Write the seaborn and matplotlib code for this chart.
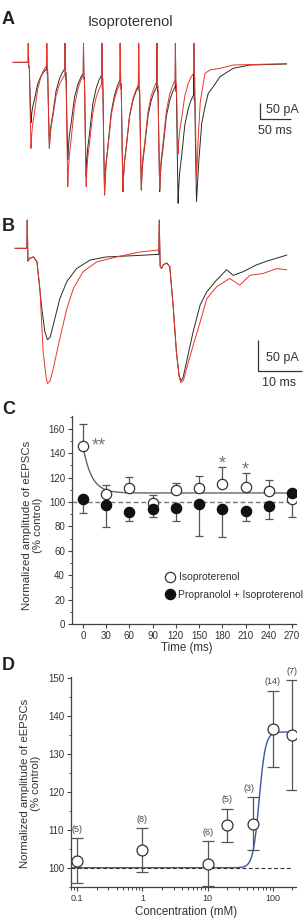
import numpy as np
import pandas as pd
import matplotlib
matplotlib.use("Agg")
import matplotlib.pyplot as plt
import seaborn as sns
from matplotlib.lines import Line2D
from matplotlib.ticker import MultipleLocator, LogLocator, NullFormatter, FixedLocator, FixedFormatter

sns.set_theme(style="ticks")
plt.rcParams['font.family'] = ['Liberation Sans', 'DejaVu Sans']

# ---------------- data ----------------
# Panel A: train of 10 eEPSCs (ms, pA), control (black) vs isoproterenol (red)
A_title = "Isoproterenol"
A_stim_ms = [0, 30, 60, 90, 120, 150, 180, 210, 240, 270]
A_black_pre = [0, -20, -19, -33, -38, -53, -73, -73, -73, -98]
A_red_pre = [0, -10, -38, -38, -65, -65, -68, -58, -53, -33]
A_black_peak = [-181, -257, -293, -343, -398, -388, -383, -388, -423, -418]
A_red_peak = [-258, -258, -373, -373, -398, -385, -378, -381, -275, -343]
A_artifact_pA = 57
A_decay_dt = [1.0, 2.5, 5.4, 10.9, 16.3, 21.0]
A_decay_frac = [0.85, 0.72, 0.58, 0.28, 0.13, 0.05]
A_black_tail_t = [278, 282.9, 288.3, 293.6, 301.8, 312.7, 334.4, 361.7, 421.5]
A_black_tail_pA = [-300, -183, -133, -93, -73, -43, -18, -8, -5]
A_red_tail_t = [278, 280.5, 283, 288.3, 296.4, 312.7, 334.4, 421.5]
A_red_tail_pA = [-200, -120, -90, -33, -23, -18, -8, -4]

# Panel B: first two eEPSCs, expanded (ms, pA)
B_black_t = [-2.8, -0.1, 0, 0.15, 0.6, 1.4, 1.9, 2.2, 3.3, 4.0, 4.6, 5.2, 5.9, 7.4, 9.0, 11.2,
             14.3, 18.0, 24.1, 29.4, 29.9, 30, 30.2, 30.5, 30.9, 31.7, 32.4, 33.2, 33.9, 34.5,
             34.9, 35.4, 36.2, 37.7, 39.3, 40.8, 43.0, 45.3, 46.8, 49.1, 52.1, 54.4, 59.0]
B_black_pA = [0, 0, 46, -21, -16, -14, -19, -22, -98, -136, -149, -145, -125, -82, -54, -33,
              -19, -14, -12, -10, -10, 46, -29, -33, -27, -24, -30, -98, -169, -207,
              -216, -211, -185, -136, -92, -71, -52, -35, -44, -38, -27, -21, -11]
B_red_t = [-2.8, -0.1, 0, 0.15, 0.6, 1.4, 1.9, 2.2, 2.9, 3.6, 4.3, 4.6, 5.2, 5.9, 7.4, 9.0,
           10.5, 12.7, 15.8, 20.3, 25.6, 29.4, 29.9, 30, 30.2, 30.5, 30.9, 31.7, 32.4, 33.2,
           33.9, 34.5, 34.9, 35.5, 36.2, 37.7, 39.3, 40.8, 43.0, 46.0, 48.3, 50.6, 53.6, 56.7, 59.0]
B_red_pA = [0, 0, 46, -21, -16, -14, -19, -22, -68, -169, -211, -220, -216, -196, -147, -98,
            -65, -38, -22, -14, -6, -3, -3, 46, -29, -33, -27, -24, -30, -98,
            -169, -208, -219, -215, -196, -158, -120, -82, -63, -49, -60, -44, -41, -33, -35]

# Panel C: normalized amplitude vs time in train
C_time = [0, 30, 60, 90, 120, 150, 180, 210, 240, 270]
C_iso_mean = [145.8, 106.9, 111.8, 99.5, 109.9, 111.5, 115.1, 112.6, 108.8, 102.8]
C_iso_sem = [17.8, 6.8, 9.1, 6.5, 6.0, 10.2, 13.7, 11.0, 9.3, 15.3]
C_iso_err_dir = [1, 1, 1, 1, 1, 1, 1, 1, 1, -1]
C_prop_mean = [102.5, 97.8, 92.1, 94.3, 95.4, 98.4, 94.6, 92.4, 96.7, 107.4]
C_prop_sem = [11.2, 18.0, 7.4, 6.6, 11.0, 26.3, 23.6, 8.0, 10.9, 3.0]
C_series = ["Isoproterenol", "Propranolol + Isoproterenol"]
C_sig_text = ["**", "*", "*"]
C_sig_x = [21, 180, 210]
C_sig_y = [151, 136, 131]
C_fit_plateau = 107.4
C_fit_span = 38.4
C_fit_tau_ms = 11.0

# Panel D: concentration-response
D_conc = [0.1, 1, 10, 20, 50, 100, 200]
D_mean = [101.9, 104.6, 101.1, 111.2, 111.6, 136.6, 134.9]
D_sem = [5.95, 5.85, 5.95, 4.35, 7.0, 10.1, 14.5]
D_n = [5, 8, 6, 5, 3, 14, 7]
D_fit_bottom = 100.0
D_fit_top = 135.8
D_fit_ec50 = 62.0
D_fit_hill = 9.0

TXT = "#333333"
AX = "#444444"
RED = "#e8352a"
BLK = "#2a2a2a"

W, H = 304, 924
fig = plt.figure(figsize=(W / 100, H / 100), dpi=100)


def px_axes(x0, y0, x1, y1):
    return fig.add_axes([x0 / W, 1 - y1 / H, (x1 - x0) / W, (y1 - y0) / H])


def build_A(pre, peak, tail_t, tail_v):
    t = [-25.0]
    v = [pre[0]]
    n = len(A_stim_ms)
    for i, s in enumerate(A_stim_ms):
        P, K = pre[i], peak[i]
        t += [s - 0.4, s, s + 0.7, s + 1.6, s + 3.0, s + 4.4]
        v += [P, A_artifact_pA, P - 14, P - 12, P - 12 + 0.55 * (K - P + 12), K]
        if i < n - 1:
            N = pre[i + 1]
            for dt, f in zip(A_decay_dt, A_decay_frac):
                t.append(s + 4.4 + dt)
                v.append(N + f * (K - N))
        else:
            t += list(tail_t)
            v += list(tail_v)
    return pd.DataFrame({"t": t, "pA": v})


# ---------------- Panel A ----------------
axA = px_axes(0, 35, 304, 215)
dfAb = build_A(A_black_pre, A_black_peak, A_black_tail_t, A_black_tail_pA)
dfAr = build_A(A_red_pre, A_red_peak, A_red_tail_t, A_red_tail_pA)
sns.lineplot(data=dfAb, x="t", y="pA", sort=False, estimator=None, color=BLK, lw=0.7, ax=axA)
sns.lineplot(data=dfAr, x="t", y="pA", sort=False, estimator=None, color=RED, lw=0.7, ax=axA)
axA.set_xlim(-46.2, 449.8)
axA.set_ylim(-458, 82)
axA.axis("off")
axA.plot([378, 378, 428], [-121, -171, -171], color=TXT, lw=0.9, solid_capstyle="butt")
axA.text(387, -143, "50 pA", fontsize=9, color=TXT, ha="left", va="center")
axA.text(403, -206, "50 ms", fontsize=9, color=TXT, ha="center", va="center")
fig.text(130.5 / W, 1 - 22 / H, A_title, fontsize=10.5, color=TXT, ha="center", va="center")

# ---------------- Panel B ----------------
axB = px_axes(0, 215, 304, 395)
dfBb = pd.DataFrame({"t": B_black_t, "pA": B_black_pA})
dfBr = pd.DataFrame({"t": B_red_t, "pA": B_red_pA})
sns.lineplot(data=dfBb, x="t", y="pA", sort=False, estimator=None, color=BLK, lw=0.7, ax=axB)
sns.lineplot(data=dfBr, x="t", y="pA", sort=False, estimator=None, color=RED, lw=0.7, ax=axB)
axB.set_xlim(-6.2, 62.9)
axB.set_ylim(-239, 54.3)
axB.axis("off")
axB.plot([52.4, 52.4, 62.4], [-149.5, -199.5, -199.5], color=TXT, lw=0.9, solid_capstyle="butt")
axB.text(54.2, -178, "50 pA", fontsize=9, color=TXT, ha="left", va="center")
axB.text(57.2, -220, "10 ms", fontsize=9, color=TXT, ha="center", va="center")

# ---------------- Panel C ----------------
axC = px_axes(72, 416, 296, 624)
axC.axhline(100, ls=(0, (3.5, 2)), color="#777777", lw=1.0, zorder=1)
xs = np.linspace(0, 270, 300)
fit_df = pd.DataFrame({"x": xs, "y": C_fit_plateau + C_fit_span * np.exp(-xs / C_fit_tau_ms)})
sns.lineplot(data=fit_df, x="x", y="y", color="#666666", lw=1.0, ax=axC, zorder=2)

iso_lo = [s if d < 0 else 0 for s, d in zip(C_iso_sem, C_iso_err_dir)]
iso_hi = [s if d > 0 else 0 for s, d in zip(C_iso_sem, C_iso_err_dir)]
axC.errorbar(C_time, C_iso_mean, yerr=[iso_lo, iso_hi], fmt="none", ecolor="#555555",
             elinewidth=0.9, capsize=2.6, capthick=0.9, zorder=3)
axC.errorbar(C_time, C_prop_mean, yerr=[C_prop_sem, [0] * len(C_prop_sem)], fmt="none",
             ecolor="#555555", elinewidth=0.9, capsize=2.6, capthick=0.9, zorder=3)
sns.scatterplot(x=C_time, y=C_iso_mean, marker="o", s=55, color="white", edgecolor="#333333",
                linewidth=0.9, ax=axC, zorder=4)
sns.scatterplot(x=C_time, y=C_prop_mean, marker="o", s=55, color="#111111", edgecolor="#111111",
                linewidth=0.9, ax=axC, zorder=5)
for tx, sx, sy in zip(C_sig_text, C_sig_x, C_sig_y):
    axC.annotate(tx, (sx, sy), xytext=(0, -7.6), textcoords="offset points", ha="center",
                 va="baseline", fontsize=13, color="#777777")

axC.set_xlim(-14.2, 275.2)
axC.set_ylim(0, 170.5)
axC.set_xticks(C_time)
axC.set_yticks(range(0, 161, 20))
axC.yaxis.set_minor_locator(MultipleLocator(10))
axC.set_xlabel("Time (ms)", fontsize=8.3, color=TXT)
axC.set_ylabel("Normalized amplitude of eEPSCs\n(% control)", fontsize=8.2, color=TXT,
               linespacing=1.15)
axC.xaxis.set_label_coords(0.511, -0.117)
axC.xaxis.label.set_va("center")
axC.yaxis.set_label_coords(-0.176, 0.476)
axC.yaxis.label.set_va("center")

handles = [Line2D([], [], marker="o", ls="none", mfc="white", mec="#333333", ms=7.4, mew=0.9),
           Line2D([], [], marker="o", ls="none", mfc="#111111", mec="#111111", ms=7.4, mew=0.9)]
leg = axC.legend(handles, C_series, loc="center left", bbox_to_anchor=(166 / W, 1 - 586 / H),
                 bbox_transform=fig.transFigure, frameon=False, fontsize=7.5, handlelength=0.85,
                 handletextpad=0.35, borderpad=0, borderaxespad=0, labelspacing=0.72)
for t in leg.get_texts():
    t.set_color(TXT)

# ---------------- Panel D ----------------
axD = px_axes(71, 677, 296, 886.7)
cs = np.logspace(np.log10(0.08), np.log10(200), 500)
dfit = pd.DataFrame({"x": cs, "y": D_fit_bottom + (D_fit_top - D_fit_bottom) /
                     (1 + (D_fit_ec50 / cs) ** D_fit_hill)})
sns.lineplot(data=dfit, x="x", y="y", color="#3f55a8", lw=1.0, ax=axD, zorder=2)
axD.plot([0.08, 200], [100, 100], ls=(0, (3.5, 2.2)), color="#333333", lw=0.8, zorder=2.5)
axD.errorbar(D_conc, D_mean, yerr=D_sem, fmt="none", ecolor="#555555", elinewidth=0.9,
             capsize=4.2, capthick=0.9, zorder=3)
sns.scatterplot(x=D_conc, y=D_mean, marker="o", s=62, color="white", edgecolor="#333333",
                linewidth=0.9, ax=axD, zorder=4)
for i, (c, m, s, n) in enumerate(zip(D_conc, D_mean, D_sem, D_n)):
    dx = -3 if c == 50 else 0
    axD.annotate(f"({n})", (c, m + s), xytext=(dx, 3.2), textcoords="offset points",
                 ha="center", va="bottom", fontsize=6.5, color="#444444", annotation_clip=False)

axD.set_xscale("log")
axD.set_xlim(0.08, 228)
axD.set_ylim(95, 150.3)
axD.xaxis.set_major_locator(FixedLocator([0.1, 1, 10, 100]))
axD.xaxis.set_major_formatter(FixedFormatter(["0.1", "1", "10", "100"]))
axD.xaxis.set_minor_locator(LogLocator(base=10, subs=range(2, 10)))
axD.xaxis.set_minor_formatter(NullFormatter())
axD.set_yticks(range(100, 151, 10))
axD.yaxis.set_minor_locator(MultipleLocator(5))
axD.set_xlabel("Concentration (mM)", fontsize=8.3, color=TXT)
axD.set_ylabel("Normalized amplitude of eEPSCs\n(% control)", fontsize=8.2, color=TXT,
               linespacing=1.15)
axD.xaxis.set_label_coords(0.51, -0.122)
axD.xaxis.label.set_va("center")
axD.yaxis.set_label_coords(-0.18, 0.494)
axD.yaxis.label.set_va("center")

for ax in (axC, axD):
    sns.despine(ax=ax)
    for sp in ("left", "bottom"):
        ax.spines[sp].set_color(AX)
        ax.spines[sp].set_linewidth(0.9)
    ax.tick_params(which="major", length=3, width=0.8, colors=AX, labelsize=7, pad=2,
                   labelcolor=TXT)
    ax.tick_params(which="minor", length=1.8, width=0.7, colors=AX)
axD.tick_params(axis="x", which="major", labelsize=6.5)

for lab, yc in zip("ABCD", [19.7, 226.5, 410, 666]):
    fig.text(8.5 / W, 1 - yc / H, lab, fontsize=13, fontweight="bold", color="#222222",
             ha="center", va="center")

fig.savefig("out.png", dpi=100)
